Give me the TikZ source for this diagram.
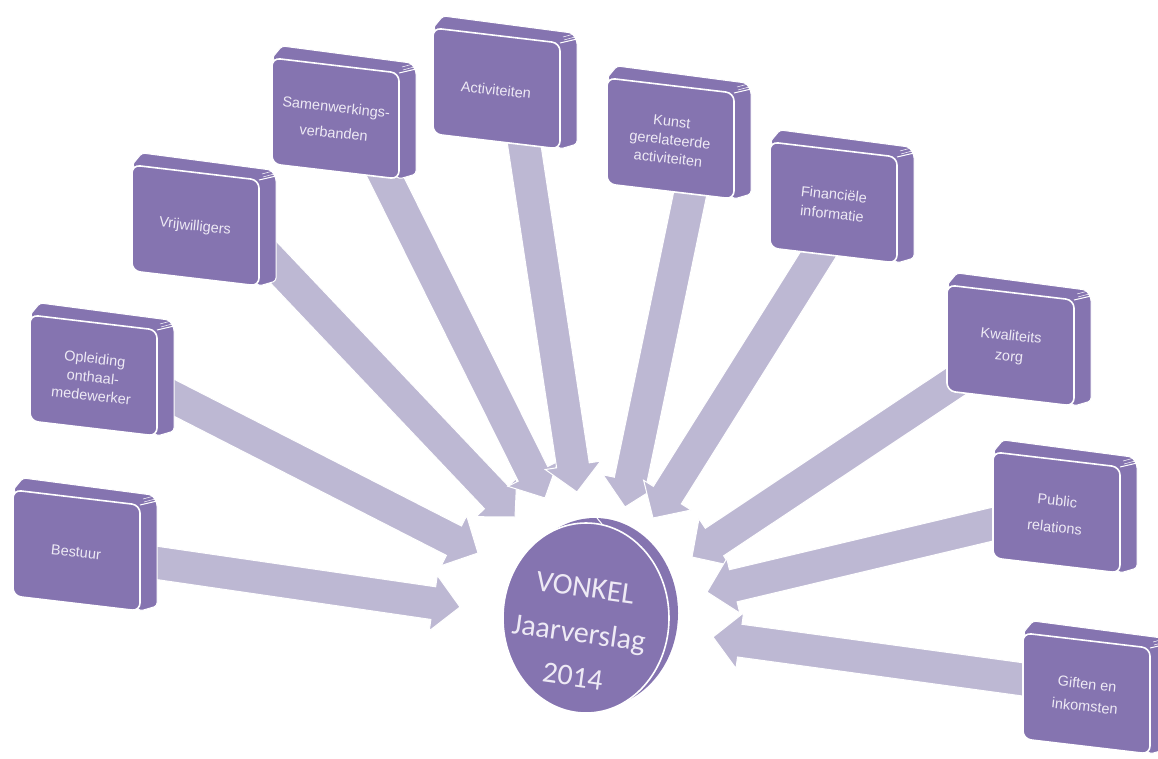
\documentclass[tikz,border=0pt]{standalone}
\usepackage{fontspec}
\setmainfont{Liberation Sans}
\newfontfamily\calfont{Carlito}
\usetikzlibrary{calc,shapes.geometric}
\definecolor{boxpurple}{HTML}{8574B0}
\definecolor{arrowlav}{HTML}{BDB8D3}
\definecolor{lighttext}{HTML}{EEEAF5}
\tikzset{
  boxback/.style={fill=boxpurple, draw=white, line width=1pt, rounded corners=3pt},
  boxfront/.style={fill=boxpurple, draw=white, line width=1.6pt, rounded corners=8pt},
  boxtext/.style={font=\fontsize{14.5}{18.5}\selectfont, text=lighttext, align=center, rotate=-6, inner sep=0pt},
  flowarrow/.style={fill=arrowlav, draw=white, line width=1pt, line join=miter},
  disc/.style={fill=boxpurple, draw=white, line width=1.6pt},
  disctext/.style={font=\calfont\fontsize{30}{44}\selectfont, text=lighttext, align=center, rotate=-8, inner sep=0pt}
}
% box with front top-left corner at #2
\newcommand\purplebox[3]{%
  \begin{scope}[shift={#2}]
    \filldraw[boxback] (0,0) -- (10,-12) -- (139,5) -- (144,13) -- (144,116) -- (127,121) -- cycle;
    \filldraw[boxfront] (0,0) -- (127,15) -- (127,121) -- (0,106) -- cycle;
    \draw[white, line width=1pt] (127,15) -- (144,11);
    \draw[white, line width=0.5pt] (130,9) -- (141,6) (131,12) -- (142,9);
    \node[boxtext] (#1) at (63,62) {#3};
  \end{scope}}
% block arrow from #1 to tip #2
\newcommand\blockarrow[2]{%
  \filldraw[flowarrow] ($(#1)!16.5pt!90:(#2)$) -- ($(#2)!27pt!(#1)!16.5pt!90:(#2)$)
    -- ($(#2)!27pt!(#1)!28pt!90:(#2)$) -- (#2)
    -- ($(#2)!27pt!(#1)!28pt!-90:(#2)$) -- ($(#2)!27pt!(#1)!16.5pt!-90:(#2)$)
    -- ($(#1)!16.5pt!-90:(#2)$) -- cycle;}
\begin{document}
\begin{tikzpicture}[x=1pt,y=-1pt]
\useasboundingbox (0,0) rectangle (1158,758);
% arrow end points
\coordinate (s1) at (137,560);  \coordinate (t1) at (460,607);
\coordinate (s2) at (157,389);  \coordinate (t2) at (478,553);
\coordinate (s3) at (259,247);  \coordinate (t3) at (515,517);
\coordinate (s4) at (379,164);  \coordinate (t4) at (545,498);
\coordinate (s5) at (522,130);  \coordinate (t5) at (577,492);
\coordinate (s6) at (692,185);  \coordinate (t6) at (625,507);
\coordinate (s7) at (826,242);  \coordinate (t7) at (653,518);
\coordinate (s8) at (967,374);  \coordinate (t8) at (692,557);
\coordinate (s9) at (1010,520); \coordinate (t9) at (707,592);
\coordinate (s10) at (1042,682); \coordinate (t10) at (713,637);
% arrows
\blockarrow{s1}{t1}
\blockarrow{s2}{t2}
\blockarrow{s3}{t3}
\blockarrow{s4}{t4}
\blockarrow{s5}{t5}
\blockarrow{s6}{t6}
\blockarrow{s7}{t7}
\blockarrow{s8}{t8}
\blockarrow{s9}{t9}
\blockarrow{s10}{t10}
% boxes
\purplebox{b1}{(13,490)}{Bestuur}
\purplebox{b2}{(30,315)}{Opleiding\\onthaal-\\medewerker}
\purplebox{b3}{(132,165)}{Vrijwilligers}
\purplebox{b4}{(272,58)}{Samenwerkings-\\[7pt]verbanden}
\purplebox{b5}{(433,28)}{Activiteiten}
\purplebox{b6}{(607,78)}{Kunst\\gerelateerde\\activiteiten}
\purplebox{b7}{(770,142)}{Financiële\\[1pt]informatie}
\purplebox{b8}{(947,285)}{Kwaliteits\\[2pt]zorg}
\purplebox{b9}{(993,452)}{Public\\[8pt]relations}
\purplebox{b10}{(1023,633)}{Giften en\\[4pt]inkomsten}
% central disc
\fill[boxpurple] (595,613) ellipse [x radius=83pt, y radius=95pt];
\node[disc, ellipse, minimum width=166pt, minimum height=190pt, inner sep=0pt] (c) at (586,618) {};
\draw[white, line width=1pt] (602,524) -- (597,518);
\node[disctext] (ct) at (579,632) {VONKEL\\[2pt]Jaarverslag\\2014};
\end{tikzpicture}
\end{document}
